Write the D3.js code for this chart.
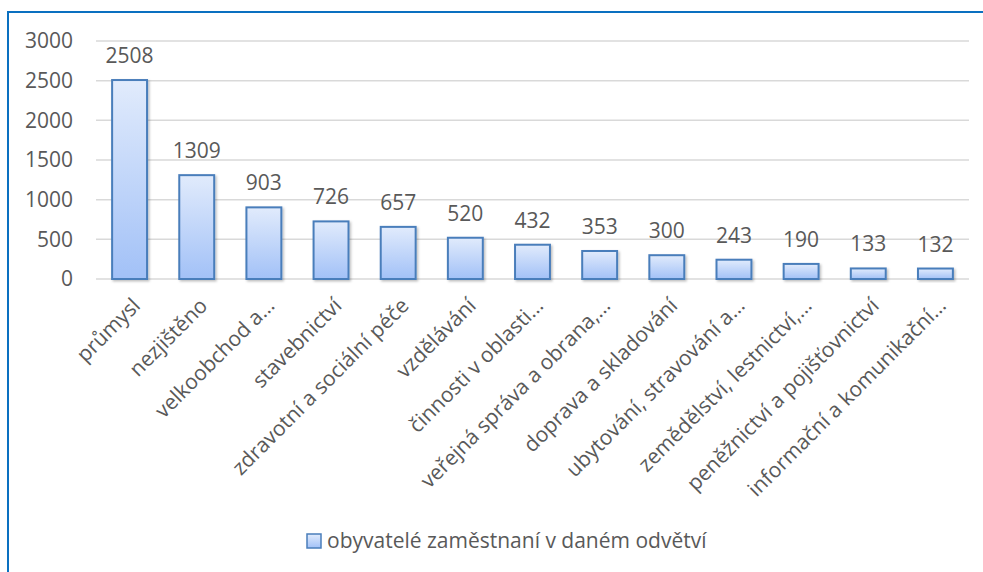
<!DOCTYPE html>
<html>
  <head>
    <meta charset='utf-8'>
    <script src='https://d3js.org/d3.v7.min.js'></script>
    <style>
      body { margin: 0; background: #fff; }
      text { font-family: 'Open Sans', sans-serif; fill: #595959; }
    </style>
  </head>
  <body>
    <div id='chart'></div>
    <script>
        // data
        const categories = ['průmysl', 'nezjištěno', 'velkoobchod a…', 'stavebnictví',
                            'zdravotní a sociální péče', 'vzdělávání', 'činnosti v oblasti…',
                            'veřejná správa a obrana,…', 'doprava a skladování',
                            'ubytování, stravování a…', 'zemědělství, lestnictví,…',
                            'peněžnictví a pojišťovnictví', 'informační a komunikační…'];
        const values = [2508, 1309, 903, 726, 657, 520, 432, 353, 300, 243, 190, 133, 132];
        const yTicks = [0, 500, 1000, 1500, 2000, 2500, 3000];
        const seriesName = 'obyvatelé zaměstnaní v daném odvětví';

        const W = 983, H = 572;
        const plot = { left: 96, right: 969, top: 41, bottom: 279 };
        const fs = '21px';

        var svg = d3.select('#chart').append('svg')
                    .attr('width', W)
                    .attr('height', H);

        var defs = svg.append('defs');
        var grad = defs.append('linearGradient')
                       .attr('id', 'barGrad')
                       .attr('x1', 0).attr('y1', 0).attr('x2', 0).attr('y2', 1);
        grad.append('stop').attr('offset', '0%').attr('stop-color', '#e1ebfc');
        grad.append('stop').attr('offset', '100%').attr('stop-color', '#a2c1f7');

        var shadow = defs.append('filter').attr('id', 'shadow')
                         .attr('x', '-20%').attr('y', '-20%').attr('width', '150%').attr('height', '150%');
        shadow.append('feDropShadow')
              .attr('dx', 1.5).attr('dy', 1.5).attr('stdDeviation', 1.2)
              .attr('flood-color', '#000').attr('flood-opacity', 0.25);

        // frame of the chart area
        svg.append('rect')
           .attr('x', 8).attr('y', 12)
           .attr('width', 1000).attr('height', 600)
           .attr('fill', 'none')
           .attr('stroke', '#0a70c0')
           .attr('stroke-width', 2);

        const x = d3.scaleBand()
                    .domain(categories)
                    .range([plot.left, plot.right])
                    .paddingInner(0.48)
                    .paddingOuter(0.24);
        const y = d3.scaleLinear()
                    .domain([0, 3000])
                    .range([plot.bottom, plot.top]);

        // gridlines
        svg.append('g')
           .selectAll('line')
           .data(yTicks)
           .join('line')
           .attr('x1', plot.left).attr('x2', plot.right)
           .attr('y1', d => y(d)).attr('y2', d => y(d))
           .attr('stroke', '#d9d9d9')
           .attr('stroke-width', 1.5);

        // y axis labels
        svg.append('g')
           .selectAll('text')
           .data(yTicks)
           .join('text')
           .attr('x', 73)
           .attr('y', d => y(d))
           .attr('dy', '0.35em')
           .attr('text-anchor', 'end')
           .style('font-size', fs)
           .text(d => d);

        // bars
        svg.append('g')
           .selectAll('rect')
           .data(values)
           .join('rect')
           .attr('x', (d, i) => x(categories[i]))
           .attr('y', d => y(d))
           .attr('width', x.bandwidth())
           .attr('height', d => y(0) - y(d))
           .attr('fill', 'url(#barGrad)')
           .attr('stroke', '#4a7ebb')
           .attr('stroke-width', 2)
           .attr('filter', 'url(#shadow)');

        // value labels
        svg.append('g')
           .selectAll('text')
           .data(values)
           .join('text')
           .attr('x', (d, i) => x(categories[i]) + x.bandwidth() / 2)
           .attr('y', d => y(d) - 17)
           .attr('text-anchor', 'middle')
           .style('font-size', fs)
           .text(d => d);

        // category labels, rotated
        svg.append('g')
           .selectAll('text')
           .data(categories)
           .join('text')
           .attr('transform', d => 'translate(' + (x(d) + x.bandwidth() / 2 + 12) + ',307) rotate(-45)')
           .attr('text-anchor', 'end')
           .style('font-size', fs)
           .text(d => d);

        // legend
        var legend = svg.append('g').attr('transform', 'translate(307,534)');
        legend.append('rect')
              .attr('width', 14).attr('height', 14)
              .attr('fill', 'url(#barGrad)')
              .attr('stroke', '#4a7ebb')
              .attr('stroke-width', 1.5);
        legend.append('text')
              .attr('x', 20).attr('y', 7)
              .attr('dy', '0.35em')
              .style('font-size', fs)
              .text(seriesName);
    </script>
  </body>
</html>
